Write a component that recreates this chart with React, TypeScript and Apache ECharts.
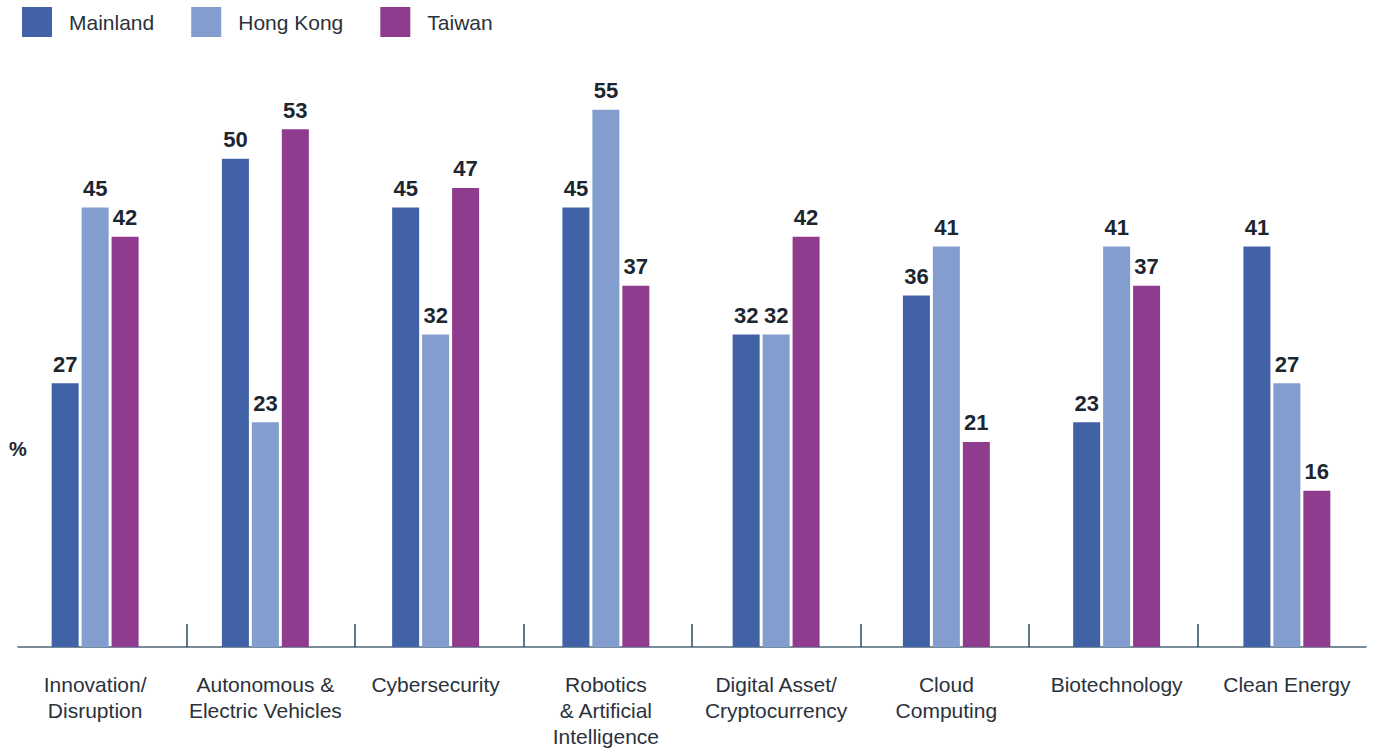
import React, { useEffect, useRef } from "react";
import * as echarts from "echarts";

const categories = [
  "Innovation/\nDisruption",
  "Autonomous &\nElectric Vehicles",
  "Cybersecurity",
  "Robotics\n& Artificial\nIntelligence",
  "Digital Asset/\nCryptocurrency",
  "Cloud\nComputing",
  "Biotechnology",
  "Clean Energy",
];
const mainland = [27, 50, 45, 45, 32, 36, 23, 41];
const hongKong = [45, 23, 32, 55, 32, 41, 41, 27];
const taiwan = [42, 53, 47, 37, 42, 21, 37, 16];
const seriesNames = ["Mainland", "Hong Kong", "Taiwan"];
const colors = ["#4162a7", "#839dce", "#8f3c8f"];
const tickSlots = ["", "", "", "", "", "", "", "", ""];

const FONT = "'Liberation Sans', Arial, sans-serif";

export default function App() {
  const ref = useRef<HTMLDivElement>(null);
  useEffect(() => {
    if (!ref.current) return;
    const chart = echarts.init(ref.current, undefined, { renderer: "svg" });
    const label = {
      show: true,
      position: "top",
      distance: 8,
      fontFamily: FONT,
      fontSize: 22,
      fontWeight: "bold",
      color: "#1b2631",
    };
    const datasets = [mainland, hongKong, taiwan];
    chart.setOption({
      animation: false,
      color: colors,
      textStyle: { fontFamily: FONT },
      legend: {
        data: seriesNames.map((n) => ({ name: n, icon: "rect" })),
        left: 22,
        top: 7,
        padding: 0,
        itemWidth: 30,
        itemHeight: 30,
        itemGap: 37,
        textStyle: {
          fontFamily: FONT,
          fontSize: 21,
          color: "#2a323c",
          padding: [0, 0, 0, 12],
        },
      },
      graphic: [
        {
          type: "text",
          left: 9,
          top: 439,
          style: {
            text: "%",
            font: `bold 20px ${FONT}`,
            fill: "#1b2631",
          },
        },
      ],
      grid: [
        { left: 10, right: 3, top: 61, bottom: 102 },
        { left: 18, right: 9, top: 61, bottom: 102 },
      ],
      xAxis: [
        {
          type: "category",
          gridIndex: 0,
          data: categories,
          axisLine: { show: false },
          axisTick: { show: false },
          axisLabel: {
            margin: 24,
            fontFamily: FONT,
            fontSize: 21,
            lineHeight: 26,
            color: "#2a323c",
            interval: 0,
          },
        },
        {
          type: "category",
          gridIndex: 1,
          data: tickSlots,
          boundaryGap: false,
          axisLine: { show: true, lineStyle: { color: "#4d6677", width: 1.5 } },
          axisTick: {
            show: true,
            inside: true,
            length: 23,
            lineStyle: { color: "#2b4a5c", width: 1.5 },
            interval: (i: number) => i !== 0 && i !== tickSlots.length - 1,
          },
          axisLabel: { show: false },
          splitLine: { show: false },
        },
      ],
      yAxis: [
        { type: "value", gridIndex: 0, min: 0, max: 60, show: false },
        { type: "value", gridIndex: 1, min: 0, max: 60, show: false },
      ],
      series: seriesNames.map((name, i) => ({
        name,
        type: "bar",
        xAxisIndex: 0,
        yAxisIndex: 0,
        data: datasets[i],
        barWidth: 27,
        barGap: "11%",
        itemStyle: { color: colors[i] },
        label,
        z: 3,
      })),
    });
    return () => chart.dispose();
  }, []);
  return (
    <div
      ref={ref}
      style={{ position: "fixed", left: 0, top: 0, width: 1375, height: 749, background: "#fff" }}
    />
  );
}
